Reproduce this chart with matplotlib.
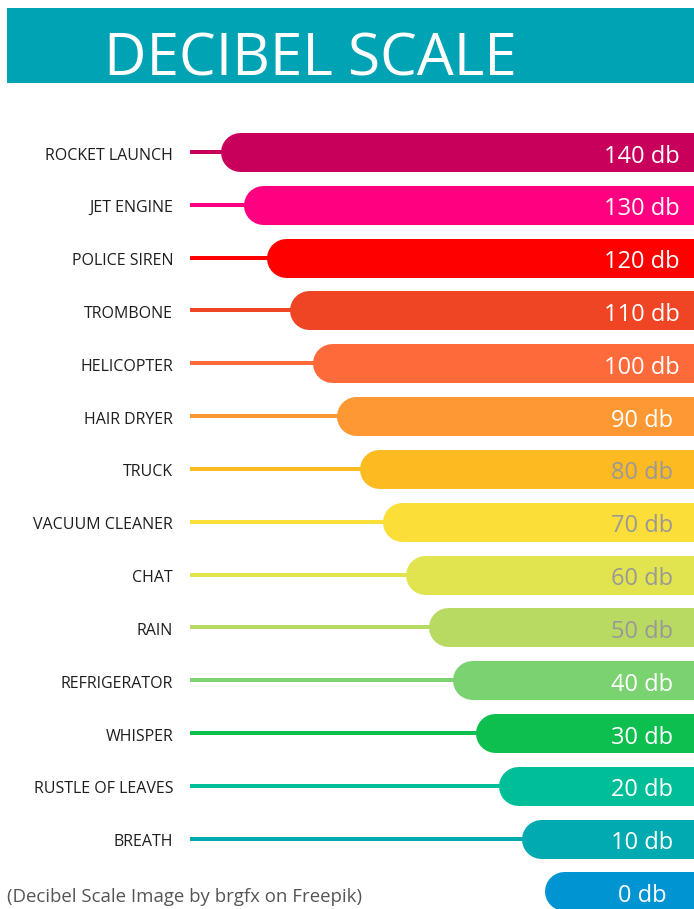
import matplotlib.pyplot as plt
from matplotlib.patches import Rectangle

# data: noise sources and their levels, loudest first
sources = ['ROCKET LAUNCH', 'JET ENGINE', 'POLICE SIREN', 'TROMBONE', 'HELICOPTER',
           'HAIR DRYER', 'TRUCK', 'VACUUM CLEANER', 'CHAT', 'RAIN', 'REFRIGERATOR',
           'WHISPER', 'RUSTLE OF LEAVES', 'BREATH', '']
decibels = [140, 130, 120, 110, 100, 90, 80, 70, 60, 50, 40, 30, 20, 10, 0]
bar_colors = ['#C9005B', '#FF0080', '#FE0000', '#EF4525', '#FF6A3A', '#FD9832', '#FDBA21',
              '#FCDE38', '#E1E44F', '#B8DA63', '#7AD370', '#0DBF4F', '#00BE97', '#00AAB0', '#0194D2']
gray_text = [80, 70, 60, 50]

W, H = 694, 909
fig = plt.figure(figsize=(W / 100, H / 100), dpi=100)
ax = fig.add_axes([0, 0, 1, 1])
ax.set_xlim(243.2, -55.8)      # reversed: louder sounds reach further left
ax.set_ylim(14.332, -2.878)
ax.axis('off')

# title band
fig.patches.append(Rectangle((7 / W, 1 - 83 / H), 1, 75 / H, transform=fig.transFigure,
                             facecolor='#00A3B4', edgecolor='none'))
fig.text(104 / W, 1 - 75 / H, 'DECIBEL SCALE', color='white', fontsize=42,
         family='Open Sans', va='baseline', ha='left')

bar_lw = 39 * 72 / 100
stem_lw = 4 * 72 / 100
for i, (name, db, col) in enumerate(zip(sources, decibels, bar_colors)):
    ax.plot([db, -90], [i, i], color=col, lw=bar_lw, solid_capstyle='round')
    if name:
        ax.plot([161.3, db], [i, i], color=col, lw=stem_lw, solid_capstyle='butt')
        ax.annotate(name, (168.6, i), xytext=(0, -5.4), textcoords='offset points',
                    ha='right', va='baseline', fontsize=11.5, color='#1E1E1E', family='Open Sans')
    tcol = '#999999' if db in gray_text else 'white'
    ax.annotate(f'{db} db', (-33.4, i), xytext=(0, -7.6), textcoords='offset points',
                ha='center', va='baseline', fontsize=17, color=tcol, family='Open Sans')

fig.text(7 / W, 1 - 902 / H, '(Decibel Scale Image by brgfx on Freepik)', color='#555555',
         fontsize=13.4, family='Open Sans', ha='left', va='baseline')

fig.savefig('out.png', dpi=100)
